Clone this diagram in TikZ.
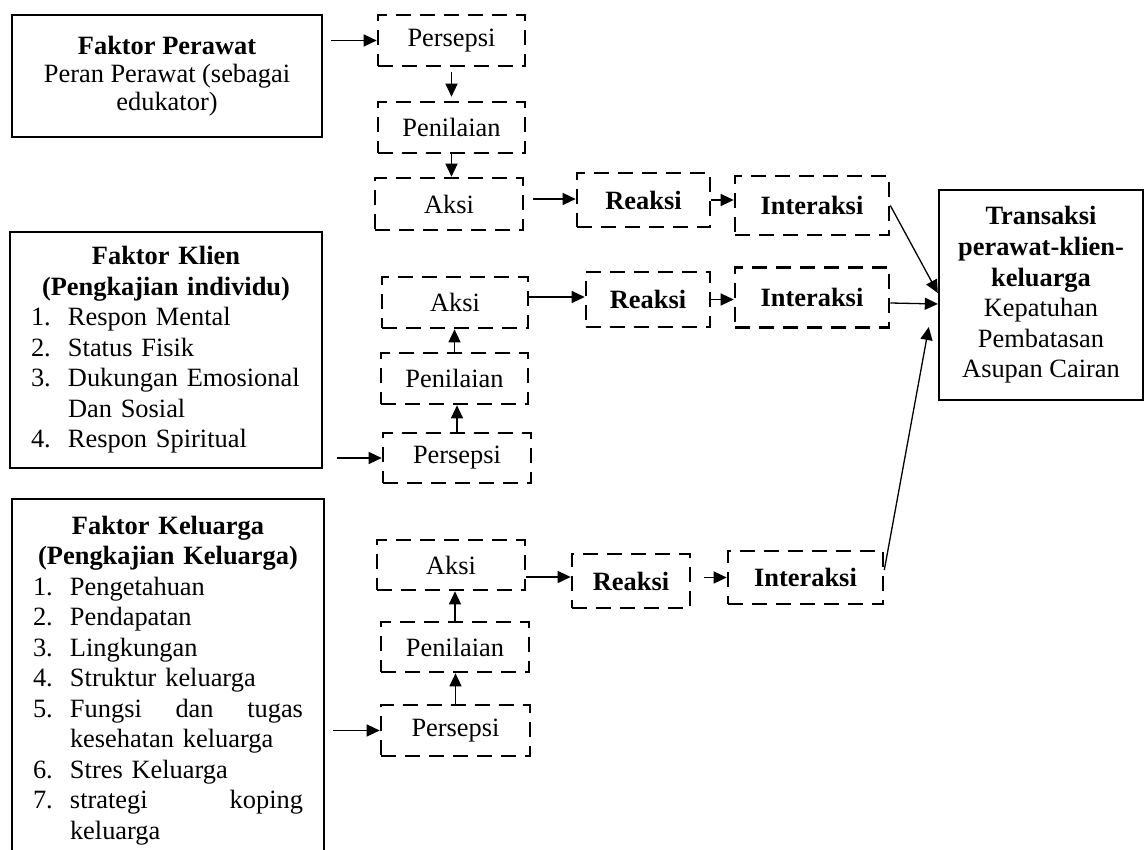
\documentclass[tikz,border=0pt]{standalone}
\usepackage{fontspec}
\setmainfont{Liberation Serif}
\usetikzlibrary{arrows.meta}
\newcommand\litem[2]{\par\noindent\hangindent=37pt\hangafter=1\makebox[37pt][l]{#1}#2\par}
\begin{document}
\begin{tikzpicture}[x=1pt,y=-1pt,
  txt/.style={font=\fontsize{26.4}{30.5}\selectfont},
  solidbox/.style={draw, line width=2.4pt, inner sep=0pt, txt},
  dbox/.style={draw, line width=2.6pt, dash pattern=on 15pt off 9pt, inner sep=0pt, txt},
  arr/.style={line width=1.3pt, -{Triangle[length=13pt,width=12pt]}},
]
\fill[white] (0,0) rectangle (1146,850);
\useasboundingbox (0,0) rectangle (1146,850);
\clip (0,0) rectangle (1146,850);

% left factor boxes
\node[solidbox, minimum width=310pt, minimum height=122pt, align=center,
      font=\fontsize{26.4}{28}\selectfont] (B1) at (167,76)
  {\textbf{Faktor Perawat}\\Peran Perawat (sebagai\\edukator)};

\node[solidbox, text width=270pt, inner xsep=21pt, minimum height=236pt] (B2) at (166,350) {%
  {\centering\bfseries Faktor Klien\\(Pengkajian individu)\par}%
  \litem{1.}{Respon Mental}%
  \litem{2.}{Status Fisik}%
  \litem{3.}{Dukungan Emosional\newline Dan Sosial}%
  \litem{4.}{Respon Spiritual}};

\node[solidbox, text width=270pt, inner xsep=21pt, minimum height=363pt] (B3) at (168,680.5) {%
  {\centering\bfseries Faktor Keluarga\\(Pengkajian Keluarga)\par}%
  \litem{1.}{Pengetahuan}%
  \litem{2.}{Pendapatan}%
  \litem{3.}{Lingkungan}%
  \litem{4.}{Struktur keluarga}%
  \litem{5.}{\hbox to 233pt{Fungsi\hfill dan\hfill tugas}\newline kesehatan keluarga}%
  \litem{6.}{Stres Keluarga}%
  \litem{7.}{\hbox to 233pt{strategi\hfill koping}\newline keluarga}};

% target box
\node[solidbox, minimum width=204pt, minimum height=210pt, align=center,
      font=\fontsize{26.4}{30.6}\selectfont] (T) at (1041,295)
  {\textbf{Transaksi}\\\textbf{perawat-klien-}\\\textbf{keluarga}\\Kepatuhan\\Pembatasan\\Asupan Cairan};

% row 1
\node[dbox, minimum width=147pt, minimum height=51pt] (P1) at (451.5,40.5) {Persepsi};
\node[dbox, minimum width=147pt, minimum height=51pt] (N1) at (451.5,127.5) {Penilaian};
\node[dbox, minimum width=148pt, minimum height=52pt] (A1) at (449,204) {Aksi};
\node[dbox, minimum width=133pt, minimum height=54pt, font=\fontsize{26.4}{30.5}\selectfont\bfseries] (R1) at (643.5,200) {Reaksi};
\node[dbox, minimum width=154pt, minimum height=59pt, font=\fontsize{26.4}{30.5}\selectfont\bfseries] (I1) at (812,205.5) {Interaksi};

% row 2
\node[dbox, minimum width=146pt, minimum height=51pt] (A2) at (455,302.5) {Aksi};
\node[dbox, minimum width=147pt, minimum height=51pt] (N2) at (454.5,378.5) {Penilaian};
\node[dbox, minimum width=148pt, minimum height=50pt] (P2) at (457,458) {Persepsi};
\node[dbox, minimum width=124pt, minimum height=55pt, font=\fontsize{26.4}{30.5}\selectfont\bfseries] (R2) at (648,299.5) {Reaksi};
\node[dbox, minimum width=154pt, minimum height=60pt, font=\fontsize{26.4}{30.5}\selectfont\bfseries] (I2) at (812,297.5) {Interaksi};

% row 3
\node[dbox, minimum width=148pt, minimum height=50pt] (A3) at (451,565) {Aksi};
\node[dbox, minimum width=148pt, minimum height=50pt] (N3) at (455,647) {Penilaian};
\node[dbox, minimum width=149pt, minimum height=51pt] (P3) at (455.5,730.5) {Persepsi};
\node[dbox, minimum width=118pt, minimum height=54pt, font=\fontsize{26.4}{30.5}\selectfont\bfseries] (R3) at (631,581) {Reaksi};
\node[dbox, minimum width=155pt, minimum height=53pt, font=\fontsize{26.4}{30.5}\selectfont\bfseries] (I3) at (805.5,577.5) {Interaksi};

% connectors row 1
\draw[arr, shorten <=8pt] (B1.east |- P1.west) -- (P1.west);
\draw[arr, shorten <=5pt, shorten >=4pt] (P1.south) -- (P1.south |- N1.north);
\draw[arr] (N1.south) -- (N1.south |- A1.north);
\draw[arr, shorten <=9pt] ([yshift=5pt]A1.east) -- ([yshift=5pt]A1.east -| R1.west);
\draw[arr] (R1.east) -- (R1.east -| I1.west);
\draw[arr] (I1.east) -- ([yshift=2pt]T.west);

% connectors row 2
\draw[arr, shorten <=14pt] (B2.east |- P2.west) -- (P2.west);
\draw[arr] (P2.north) -- (P2.north |- N2.south);
\draw[arr] (N2.north) -- (N2.north |- A2.south);
\draw[arr] ([yshift=5.5pt]A2.east) -- ([yshift=5.5pt]A2.east -| R2.west);
\draw[arr] (R2.east) -- (R2.east -| I2.west);
\draw[arr] ([yshift=-5.5pt]I2.east) -- ([yshift=-9pt]T.west);

% connectors row 3
\draw[arr, shorten <=8pt] (B3.east |- P3.west) -- (P3.west);
\draw[arr] (P3.north) -- (P3.north |- N3.south);
\draw[arr] (N3.north) -- (N3.north |- A3.south);
\draw[arr] ([yshift=-12pt]A3.east) -- ([yshift=-12pt]A3.east -| R3.west);
\draw[arr, shorten <=13pt] ([yshift=3.5pt]R3.east) -- ([yshift=3.5pt]R3.east -| I3.west);
\draw[arr] ([yshift=7.5pt]I3.east) -- ([xshift=-9pt,yshift=-32pt]T.west);
\end{tikzpicture}
\end{document}
